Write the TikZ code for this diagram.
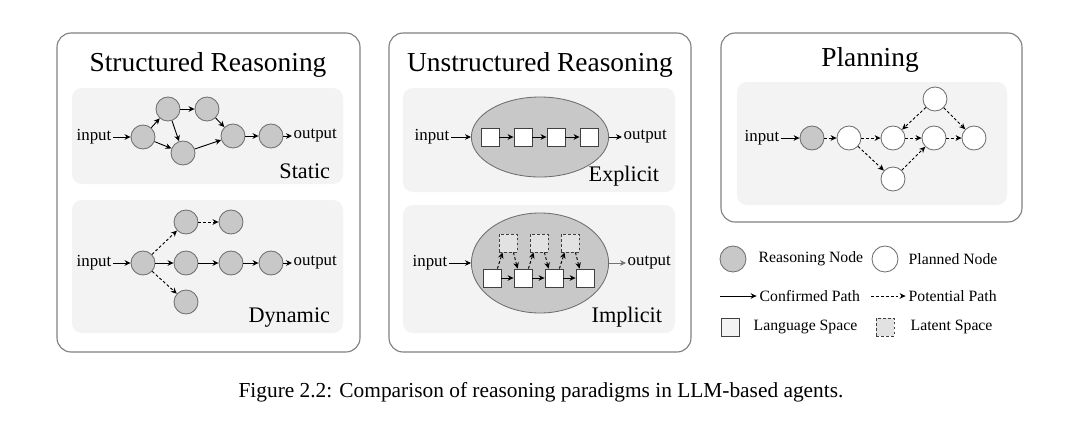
\documentclass[tikz,border=0pt]{standalone}
\usepackage{fontspec}
\setmainfont{Liberation Serif}
\usetikzlibrary{arrows.meta,positioning,calc,shapes.geometric}
\definecolor{nodefill}{RGB}{200,200,200}
\definecolor{nodeline}{RGB}{110,110,110}
\definecolor{panelbg}{RGB}{243,243,243}
\definecolor{latentfill}{RGB}{226,226,226}

\begin{document}
\begin{tikzpicture}[x=0.025cm, y=-0.025cm, font=\fontsize{12}{14}\selectfont,
  panel/.style={draw=black!50, line width=0.8pt, rounded corners=10pt},
  bg/.style={fill=panelbg, rounded corners=7pt},
  rn/.style={circle, draw=nodeline, fill=nodefill, line width=0.6pt, minimum size=0.6cm, inner sep=0pt},
  pn/.style={rn, fill=white},
  ls/.style={draw=black!75, fill=white, line width=0.6pt, minimum size=0.45cm, inner sep=0pt},
  lt/.style={ls, dashed, dash pattern=on 2pt off 1.5pt, fill=latentfill},
  blob/.style={ellipse, draw=nodeline, fill=nodefill, line width=0.6pt, inner sep=0pt, minimum width=3.43cm},
  txt/.style={inner sep=1pt},
  lg/.style={txt, anchor=west, font=\fontsize{11.2}{13}\selectfont},
  ttl/.style={anchor=base, font=\fontsize{19.5}{22}\selectfont},
  sub/.style={anchor=base east, font=\fontsize{15.8}{18}\selectfont},
  arr/.style={-{Stealth[length=1.5mm, width=1.4mm]}, line width=0.65pt},
  darr/.style={arr, dash pattern=on 2pt off 1.5pt}]
  \useasboundingbox (0,0) rectangle (1080,424);
  % structured reasoning
  \draw[panel] (57,33) rectangle (360,352);
  \node[ttl] (t1) at (208,71) {Structured Reasoning};
  \fill[bg] (72,88) rectangle (343,184);
  \fill[bg] (72,200) rectangle (343,333);
  \node[txt, anchor=east] (si) at (113,137) {input};
  \node[rn] (s1) at (143,137) {}; \node[rn] (s2) at (168,109) {}; \node[rn] (s3) at (207,109) {};
  \node[rn] (s4) at (183,153) {}; \node[rn] (s5) at (233,136) {}; \node[rn] (s6) at (271,136) {};
  \node[txt, anchor=west] (so) at (292,136) {output};
  \node[sub] (sl) at (335,178) {Static};
  \foreach \u/\v in {si/s1,s1/s2,s1/s4,s2/s4,s2/s3,s3/s5,s4/s5,s5/s6,s6/so} \draw[arr] (\u) -- (\v);
  \node[txt, anchor=east] (di) at (113,263) {input};
  \node[rn] (d0) at (143,263) {}; \node[rn] (du1) at (186,222) {}; \node[rn] (du2) at (231,222) {};
  \node[rn] (dm1) at (186,263) {}; \node[rn] (dm2) at (231,263) {}; \node[rn] (dm3) at (271,263) {};
  \node[rn] (dd) at (186,302) {};
  \node[txt, anchor=west] (do) at (292,263) {output};
  \node[sub] (dl) at (335,322) {Dynamic};
  \foreach \u/\v in {di/d0,d0/dm1,dm1/dm2,dm2/dm3,dm3/do} \draw[arr] (\u) -- (\v);
  \foreach \u/\v in {d0/du1,du1/du2,d0/dd} \draw[darr] (\u) -- (\v);
  % unstructured reasoning
  \draw[panel] (389,33) rectangle (691,352);
  \node[ttl] (t2) at (540,71) {Unstructured Reasoning};
  \fill[bg] (403,88) rectangle (675,192);
  \fill[bg] (403,205) rectangle (675,333);
  \node[blob, minimum height=2cm] (ex) at (540,137) {};
  \node[txt, anchor=east] (ei) at (451,137) {input};
  \foreach \n/\x in {1/490,2/523,3/556,4/589} \node[ls] (e\n) at (\x,137) {};
  \node[txt, anchor=west] (eo) at (622,137) {output};
  \node[sub] (el) at (664,181) {Explicit};
  \foreach \u/\v in {ei/ex,e1/e2,e2/e3,e3/e4} \draw[arr] (\u) -- (\v);
  \draw[arr] (ex.east) -- (eo);
  \node[blob, minimum height=2.5cm] (im) at (540,263) {};
  \node[txt, anchor=east] (ii) at (449,263) {input};
  \foreach \n/\x in {1/492,2/523,3/554,4/585} \node[ls] (b\n) at (\x,278) {};
  \foreach \n/\x in {1/508,2/539,3/570} \node[lt] (l\n) at (\x,243) {};
  \node[txt, anchor=west] (io) at (626,263) {output};
  \node[sub] (il) at (667,322) {Implicit};
  \draw[arr] (ii) -- (im);
  \draw[arr, draw=black!55, line width=0.4pt] (im.east) -- (io);
  \foreach \u/\v in {b1/b2,b2/b3,b3/b4} \draw[arr] (\u) -- (\v);
  \foreach \n [count=\m from 2] in {1,2,3} {
    \draw[darr] (b\n.60) -- (l\n.240);
    \draw[darr] (l\n.300) -- (b\m.120);
  }
  % planning
  \draw[panel] (721,33) rectangle (1022,222);
  \node[ttl] (t3) at (870,66) {Planning};
  \fill[bg] (737,82) rectangle (1007,205);
  \node[txt, anchor=east] (pi) at (781,138) {input};
  \node[rn] (pg) at (812,138) {};
  \node[pn] (w1) at (849,138) {}; \node[pn] (w2) at (893,138) {}; \node[pn] (w3) at (934,138) {};
  \node[pn] (w4) at (974,138) {}; \node[pn] (wt) at (935,99) {}; \node[pn] (wb) at (893,179) {};
  \draw[arr] (pi) -- (pg);
  \foreach \u/\v in {pg/w1,w1/w2,w2/w3,w3/w4,w1/wb,wb/w3,wt/w2,wt/w4} \draw[darr] (\u) -- (\v);
  % legend
  \node[rn, minimum size=0.65cm] (kr) at (733,259) {};
  \node[lg] (krt) at (757,259) {Reasoning Node};
  \node[pn, minimum size=0.65cm] (kp) at (885,259) {};
  \node[lg] (kpt) at (907,259) {Planned Node};
  \coordinate (kc) at (720,296);
  \node[lg] (kct) at (758,296) {Confirmed Path};
  \coordinate (kd) at (871,296);
  \node[lg] (kdt) at (907,296) {Potential Path};
  \draw[arr] (kc) -- ([xshift=-1pt]kct.west);
  \draw[darr] (kd) -- ([xshift=-1pt]kdt.west);
  \node[ls, fill=panelbg] (kl) at (730,327) {};
  \node[lg] (klt) at (752,327) {Language Space};
  \node[lt] (kt) at (885,327) {};
  \node[lg] (ktt) at (909,327) {Latent Space};
  % caption
  \node[anchor=base, font=\fontsize{15.2}{18}\selectfont] (cap) at (541,397) {Figure 2.2: Comparison of reasoning paradigms in LLM-based agents.};
\end{tikzpicture}
\end{document}
